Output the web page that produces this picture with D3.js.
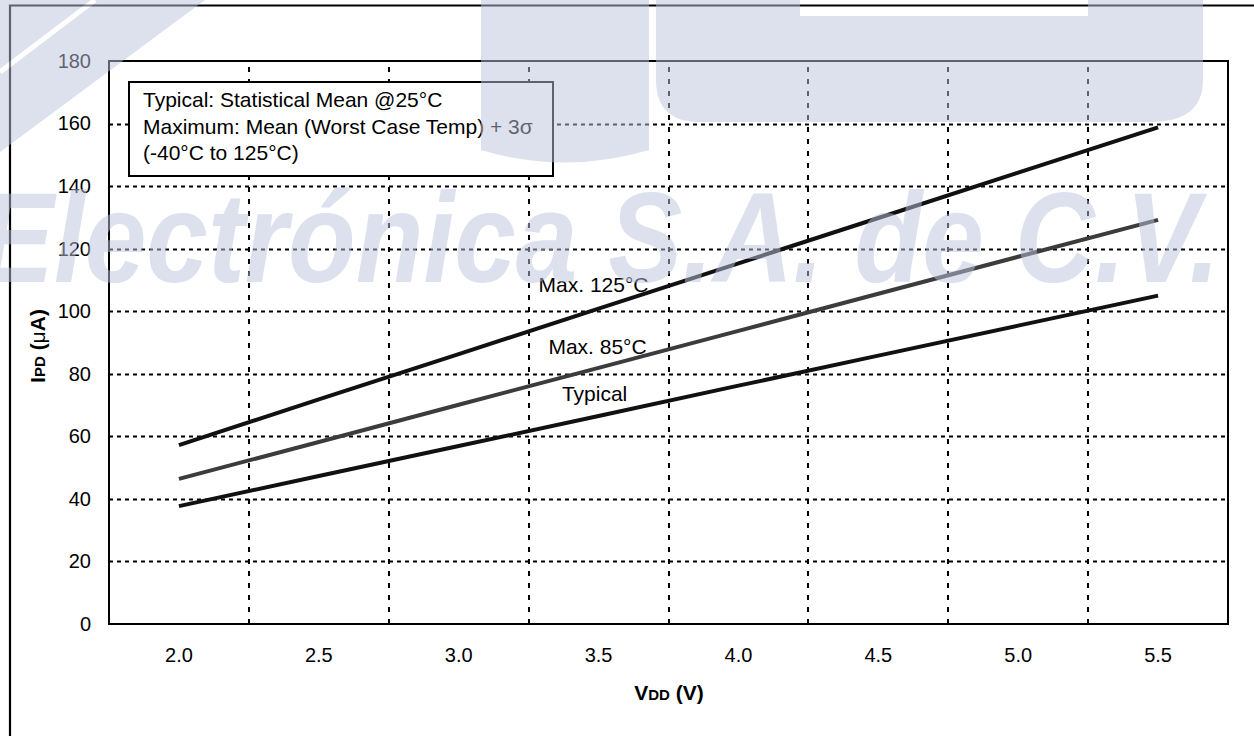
<!DOCTYPE html>
<html>
<head>
<meta charset="utf-8">
<script src="https://cdn.jsdelivr.net/npm/d3@7"></script>
<style>
  html, body { margin: 0; padding: 0; background: #fff; }
  svg { display: block; }
  text { font-family: Arial, "Liberation Sans", sans-serif; fill: #000; }
</style>
</head>
<body>
<svg id="chart" width="1254" height="736"></svg>
<script>
// Supply voltage categories (V)
const vdd = ["2.0", "2.5", "3.0", "3.5", "4.0", "4.5", "5.0", "5.5"];
// Power-down current (µA) per voltage
const max125 = [57.2, 71.8, 86.3, 100.8, 115.3, 129.8, 144.3, 158.8];
const max85 = [46.4, 58.2, 70.1, 81.9, 93.7, 105.6, 117.4, 129.2];
const typical = [37.7, 47.3, 56.9, 66.5, 76.2, 85.8, 95.4, 105.0];
const seriesLabels = ["Max. 125°C", "Max. 85°C", "Typical"];
// Y axis tick values
const yTicks = [0, 20, 40, 60, 80, 100, 120, 140, 160, 180];
// Note box text
const noteLines = [
  "Typical: Statistical Mean @25°C",
  "Maximum: Mean (Worst Case Temp) + 3σ",
  "(-40°C to 125°C)"
];
const watermarkText = "Electrónica S.A. de C.V.";

const svg = d3.select("#chart");
const W = 1254, H = 736;
const plot = { left: 109, right: 1228, top: 61, bottom: 624 };

const x = d3.scaleBand().domain(vdd).range([plot.left, plot.right]).padding(0);
const y = d3.scaleLinear().domain([0, 180]).range([plot.bottom, plot.top]);
const cx = v => x(v) + x.bandwidth() / 2;

// Outer chart frame
svg.append("path")
  .attr("d", `M10,${H + 5} L10,5.5 L${W + 5},5.5`)
  .attr("fill", "none").attr("stroke", "#000").attr("stroke-width", 2.2);

// Horizontal gridlines
const grid = svg.append("g");
grid.selectAll("line.h")
  .data(yTicks.filter(t => t > 0 && t < 180))
  .join("line")
  .attr("x1", plot.left).attr("x2", plot.right)
  .attr("y1", d => Math.round(y(d)) + 0.5).attr("y2", d => Math.round(y(d)) + 0.5)
  .attr("stroke", "#000").attr("stroke-width", 2)
  .attr("stroke-dasharray", "4,4");

// Vertical gridlines at category boundaries
grid.selectAll("line.v")
  .data(vdd.slice(1))
  .join("line")
  .attr("x1", d => Math.round(x(d)))
  .attr("x2", d => Math.round(x(d)))
  .attr("y1", plot.bottom).attr("y2", plot.top)
  .attr("stroke", "#000").attr("stroke-width", 2)
  .attr("stroke-dasharray", "5,7");

// Plot frame
svg.append("rect")
  .attr("x", plot.left).attr("y", plot.top)
  .attr("width", plot.right - plot.left).attr("height", plot.bottom - plot.top)
  .attr("fill", "none").attr("stroke", "#000").attr("stroke-width", 2);

// Y axis labels
const yAxis = d3.axisLeft(y).tickValues(yTicks).tickSize(0).tickPadding(18);
svg.append("g")
  .attr("transform", `translate(${plot.left},0)`)
  .call(yAxis)
  .call(g => g.select(".domain").remove())
  .call(g => g.selectAll("text")
    .attr("font-family", "Arial, 'Liberation Sans', sans-serif")
    .attr("font-size", 20).attr("fill", "#111"));

// X axis labels
const xAxis = d3.axisBottom(x).tickSize(0).tickPadding(24);
svg.append("g")
  .attr("transform", `translate(0,${plot.bottom})`)
  .call(xAxis)
  .call(g => g.select(".domain").remove())
  .call(g => g.selectAll("text")
    .attr("font-family", "Arial, 'Liberation Sans', sans-serif")
    .attr("font-size", 20).attr("fill", "#111"));

// Series lines
const series = [
  { name: seriesLabels[0], values: max125, color: "#111", dx: -5, dy: -17 },
  { name: seriesLabels[1], values: max85, color: "#3c3c3c", dx: -1, dy: -14 },
  { name: seriesLabels[2], values: typical, color: "#111", dx: -4, dy: -15 }
];
const line = d3.line().x((d, i) => cx(vdd[i])).y(d => y(d));
svg.append("g").selectAll("path")
  .data(series)
  .join("path")
  .attr("d", d => line(d.values))
  .attr("fill", "none")
  .attr("stroke", d => d.color)
  .attr("stroke-width", 4);

// Series labels near 3.5 V
svg.append("g").selectAll("text")
  .data(series)
  .join("text")
  .attr("x", d => cx("3.5") + d.dx)
  .attr("y", d => y(d.values[3]) + d.dy)
  .attr("text-anchor", "middle")
  .attr("font-size", 21)
  .attr("fill", "#111")
  .text(d => d.name);

// Note box
const note = svg.append("g");
note.append("rect")
  .attr("x", 129).attr("y", 82).attr("width", 424).attr("height", 94)
  .attr("fill", "#fff").attr("stroke", "#000").attr("stroke-width", 2);
note.selectAll("text")
  .data(noteLines)
  .join("text")
  .attr("x", 143)
  .attr("y", (d, i) => 107 + i * 26.5)
  .attr("font-size", 21)
  .attr("fill", "#111")
  .text(d => d);

// Axis titles
const yt = svg.append("text")
  .attr("transform", "translate(45,346) rotate(-90)")
  .attr("text-anchor", "middle")
  .attr("font-weight", "bold")
  .attr("font-size", 21);
yt.append("tspan").text("I");
yt.append("tspan").attr("font-size", 15).text("PD");
yt.append("tspan").text(" (");
yt.append("tspan").attr("font-weight", "normal").text("μ");
yt.append("tspan").text("A)");

const xt = svg.append("text")
  .attr("x", 669).attr("y", 700)
  .attr("text-anchor", "middle")
  .attr("font-weight", "bold")
  .attr("font-size", 21);
xt.append("tspan").text("V");
xt.append("tspan").attr("font-size", 15).text("DD");
xt.append("tspan").text(" (V)");

// Distributor watermark overlay (semi-transparent, drawn over the chart)
const wm = svg.append("g")
  .attr("opacity", 0.5)
  .style("pointer-events", "none");
const wmFill = "rgb(188,196,222)";
wm.append("path")
  .attr("fill", wmFill)
  .attr("d", "M0,0 L205,0 L0,152 Z");
wm.append("path")
  .attr("fill", "none").attr("stroke", "#fff").attr("stroke-width", 5)
  .attr("d", "M95,0 L0,72");
wm.append("path")
  .attr("fill", wmFill)
  .attr("d", "M481,0 L649,0 L649,150 Q565,175 481,150 Z");
wm.append("path")
  .attr("fill", wmFill)
  .attr("d", "M656,0 L800,0 L800,16 L1088,16 L1088,0 L1203,0 L1203,80 Q1203,122 1150,122 L700,122 Q656,122 656,80 Z");
wm.append("text")
  .attr("x", -20).attr("y", 282)
  .attr("font-family", "'Liberation Serif', 'DejaVu Serif', serif")
  .attr("font-style", "italic").attr("font-weight", "bold")
  .attr("font-size", 128)
  .attr("textLength", 1240)
  .attr("lengthAdjust", "spacingAndGlyphs")
  .style("fill", wmFill)
  .text(watermarkText);
</script>
</body>
</html>
